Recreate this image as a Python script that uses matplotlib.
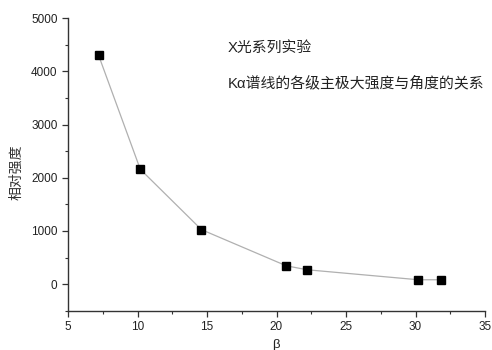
import matplotlib
matplotlib.use("Agg")
import matplotlib.pyplot as plt
from matplotlib.ticker import MultipleLocator

plt.rcParams['font.family'] = ['Liberation Sans', 'Noto Sans CJK SC', 'DejaVu Sans']

beta = [7.2, 10.2, 14.6, 20.7, 22.2, 30.2, 31.8]
intensity = [4305, 2160, 1025, 345, 270, 82, 82]
title1 = "X光系列实验"
title2 = "Kα谱线的各级主极大强度与角度的关系"
xlabel = "β"
ylabel = "相对强度"

fig = plt.figure(figsize=(4.92, 3.5), dpi=100)
ax = fig.add_axes([68/492, 1-310.7/350, (485-68)/492, (310.7-18.3)/350])
ax.plot(beta, intensity, color='#b0b0b0', lw=0.9, marker='s', markersize=5.5,
        markerfacecolor='black', markeredgecolor='black', zorder=3, clip_on=False)
ax.set_xlim(5, 35)
ax.set_ylim(-500, 5000)
ax.xaxis.set_major_locator(MultipleLocator(5))
ax.xaxis.set_minor_locator(MultipleLocator(2.5))
ax.yaxis.set_major_locator(MultipleLocator(1000))
ax.yaxis.set_minor_locator(MultipleLocator(500))
for s in ['top', 'right']:
    ax.spines[s].set_visible(False)
for s in ['left', 'bottom']:
    ax.spines[s].set_color('#333333')
    ax.spines[s].set_linewidth(1.0)
ax.tick_params(which='major', direction='out', length=4, width=0.9, labelsize=8.5, colors='#333333', labelcolor='#222222')
ax.tick_params(which='minor', direction='out', length=2.5, width=0.8, colors='#333333')
ax.text(0.384, 0.898, title1, transform=ax.transAxes, fontsize=10.7, va='center', ha='left', color='#222222',
        family=['Liberation Sans', 'Noto Sans CJK SC'])
ax.text(0.384, 0.779, title2, transform=ax.transAxes, fontsize=10.7, va='center', ha='left', color='#222222',
        family=['Liberation Sans', 'Noto Sans CJK SC'])
fig.text(276/492, 1-345/350, xlabel, fontsize=9.5, ha='center', va='center', color='#222222')
fig.text(16/492, 1-172/350, ylabel, fontsize=10, ha='center', va='center', rotation=90, color='#333333',
         family=['Noto Sans CJK SC'])
fig.savefig('out.png', dpi=100)
